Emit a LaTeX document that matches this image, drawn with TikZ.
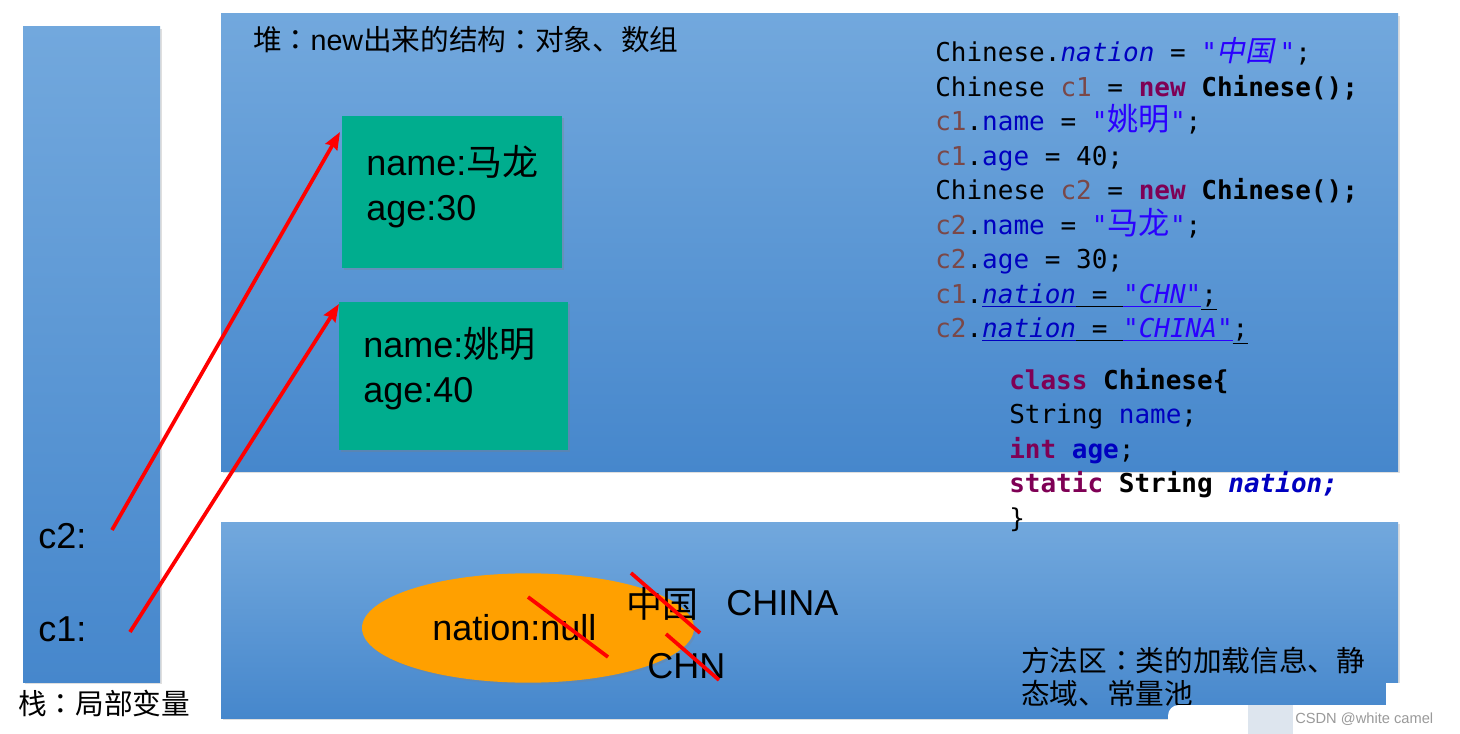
\documentclass[tikz,border=0pt]{standalone}
\usepackage{fontspec}
\setmainfont{Liberation Sans}
\setmonofont{DejaVu Sans Mono}
\newfontfamily\cjk{Noto Sans CJK SC}
\newfontfamily\cjkcol{Noto Sans CJK JP}
\newfontfamily\cjkit[FakeSlant=0.2]{Noto Sans CJK SC}
\usetikzlibrary{fit,shadows,shapes.geometric,arrows.meta}
\definecolor{bluetop}{HTML}{72A8DD}
\definecolor{bluebot}{HTML}{4687CC}
\definecolor{objgreen}{HTML}{00AD8E}
\definecolor{orng}{HTML}{FFA000}
\definecolor{kwc}{HTML}{7F0055}
\definecolor{fldc}{HTML}{0000C0}
\definecolor{strc}{HTML}{2A00FF}
\definecolor{varc}{HTML}{7A4848}
\definecolor{wmgray}{HTML}{9A9A9A}
\definecolor{wmbox}{HTML}{DDE5EE}
\newcommand\cjm[1]{\makebox[2.408em]{\cjk\fontsize{23.4}{24}\selectfont #1}}
\newcommand\cjmit[1]{\makebox[2.408em]{\cjkit\fontsize{21.5}{24}\selectfont #1\hspace{0.2em}}}
\newcommand\cv[1]{{\color{varc}#1}}
\newcommand\cf[1]{{\color{fldc}#1}}
\newcommand\ckw[1]{{\color{kwc}\bfseries #1}}
\newcommand\fwc{{\cjkcol ：}}
\tikzset{
  region/.style={fit={#1}, inner sep=0pt, top color=bluetop, bottom color=bluebot,
     drop shadow={opacity=0.25, shadow xshift=1.5pt, shadow yshift=-1.5pt}},
  objbox/.style={fit={#1}, inner sep=0pt, fill=objgreen,
     drop shadow={opacity=0.3, shadow xshift=1.5pt, shadow yshift=-1.5pt}},
  txt/.style={anchor=base west, inner sep=0pt, text=black},
  big/.style={txt, font=\fontsize{27}{32}\selectfont},
  cn/.style={txt, font=\fontsize{21.5}{26}\selectfont\cjk},
  code/.style={txt, font=\ttfamily\fontsize{19.5}{24}\selectfont},
  ptr/.style={red, line width=2.8pt, -{Stealth[length=13pt,width=10pt,inset=1.5pt]}},
  strike/.style={red, line width=2.8pt},
}
\begin{document}
\begin{tikzpicture}[x=0.75pt, y=-0.75pt]
\fill[white] (0,0) rectangle (1460,734);
\useasboundingbox (0,0) rectangle (1460,734);

% regions
\node[region={(23,27) (160,682)}] (stack) {};
\node[region={(221,14) (1398,471)}] (heap) {};
\node[region={(221,522) (1398,718)}] (method) {};

% labels of regions
\node[cn] (stacklbl) at (18,714) {栈\fwc 局部变量};
\node[cn] (heaplbl) at (253,51) {堆\fwc{\fontspec{Liberation Sans}new}出来的结构\fwc 对象、数组};
\node[cn] (methlbl1) at (1021,671) {方法区\fwc 类的加载信息、静};
\node[cn] (methlbl2) at (1021,704) {态域、常量池};

% objects
\node[objbox={(342,116) (562,268)}] (obj1) {};
\node[objbox={(339,302) (568,450)}] (obj2) {};
\node[big] (o1a) at (366,176) {name:{\cjk 马龙}};
\node[big] (o1b) at (366,221) {age:30};
\node[big] (o2a) at (363,357) {name:{\cjk 姚明}};
\node[big] (o2b) at (363,402) {age:40};

% stack variables
\node[big] (c2lbl) at (38,548) {c2:};
\node[big] (c1lbl) at (38,641) {c1:};
\coordinate (c2from) at (112,530);
\coordinate (c2to) at (340,132);
\coordinate (c1from) at (130,632);
\coordinate (c1to) at (339,304);
\draw[ptr] (c2from) -- (c2to);
\draw[ptr] (c1from) -- (c1to);

% static field
\node[ellipse, fill=orng, minimum width=249pt, minimum height=82pt, inner sep=0pt,
      drop shadow={opacity=0.25, shadow xshift=1.5pt, shadow yshift=-1.5pt}] (ell) at (528,628) {};
\node[big] (nnull) at (432,640) {nation:null};
\node[big] (zg) at (626,617) {\cjk 中国};
\node[big] (china) at (726,615) {CHINA};
\node[big] (chn) at (647,678) {CHN};
\draw[strike] (528,597) -- (608,657);
\draw[strike] (631,573) -- (700,633);
\draw[strike] (666,634) -- (719,680);

% code
\node[code] (l1) at (935,62) {Chinese.\cf{\itshape nation} = {\color{strc}\itshape "\cjmit{中国}"};};
\node[code] (l2) at (935,96.5) {Chinese \cv{c1} = \ckw{new} {\bfseries Chinese();}};
\node[code] (l3) at (935,131) {\cv{c1}.\cf{name} = {\color{strc}"\cjm{姚明}"};};
\node[code] (l4) at (935,166) {\cv{c1}.\cf{age} = 40;};
\node[code] (l5) at (935,200) {Chinese \cv{c2} = \ckw{new} {\bfseries Chinese();}};
\node[code] (l6) at (935,235) {\cv{c2}.\cf{name} = {\color{strc}"\cjm{马龙}"};};
\node[code] (l7) at (935,269) {\cv{c2}.\cf{age} = 30;};
\node[code] (l8) at (935,304) {\cv{c1}.{\color{fldc}\underline{\itshape nation}}\underline{\ =\ }{\color{strc}\underline{\itshape "CHN"}}\underline{;}};
\node[code] (l9) at (935,338) {\cv{c2}.{\color{fldc}\underline{\itshape nation}}\underline{\ =\ }{\color{strc}\underline{\itshape "CHINA"}}\underline{;}};

\node[code] (k1) at (1009,389) {\ckw{class} {\bfseries Chinese\{}};
\node[code] (k2) at (1009,423) {String \cf{name};};
\node[code] (k3) at (1009,458) {\ckw{int} {\color{fldc}\bfseries age};};
\node[code] (k4) at (1009,492) {\ckw{static} {\bfseries String} {\color{fldc}\bfseries\itshape nation;}};
\node[code] (k5) at (1009,527) {\}};

% watermark
\fill[white, rounded corners=8pt] (1168,705) rectangle (1420,740);
\fill[white] (1386,683) rectangle (1400,706);
\fill[wmbox] (1248,705) rectangle (1293,734);
\node[txt, font=\fontsize{11}{13}\selectfont, text=wmgray] (wm) at (1295,723) {CSDN @white camel};
\end{tikzpicture}
\end{document}
